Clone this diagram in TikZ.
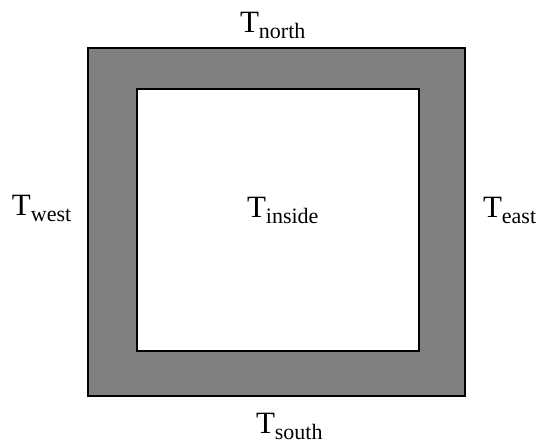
\documentclass[tikz,border=0pt]{standalone}
\usepackage{fontspec}
\setmainfont{Liberation Serif}
\newcommand{\tlabel}[1]{{\fontsize{31}{31}\selectfont T\raisebox{-6.5pt}{\fontsize{22}{22}\selectfont #1}}}
\tikzset{
  wall/.style={draw=black, line width=1.2pt, fill=black!50},
  room/.style={draw=black, line width=1.2pt, fill=white},
  lbl/.style={anchor=base west, inner sep=0pt, outer sep=0pt}
}
\begin{document}
\begin{tikzpicture}[x=1pt,y=-1pt]
\useasboundingbox (0,0) rectangle (543,445);
\path[wall] (88,48) rectangle (465,396);
\path[room] (137,89) rectangle (419,351);
\node[lbl] (north) at (240,32) {\tlabel{north}};
\node[lbl] (west) at (12,215) {\tlabel{west}};
\node[lbl] (east) at (483,217) {\tlabel{east}};
\node[lbl] (inside) at (247,217) {\tlabel{inside}};
\node[lbl] (south) at (256,433) {\tlabel{south}};
\end{tikzpicture}
\end{document}
